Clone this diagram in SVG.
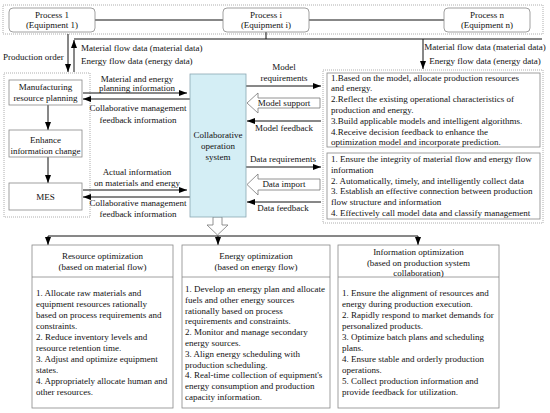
<svg xmlns="http://www.w3.org/2000/svg" width="550" height="413" viewBox="0 0 550 413">
<defs>
<marker id="ah" viewBox="0 0 8 6" refX="8" refY="3" markerWidth="8" markerHeight="6" markerUnits="userSpaceOnUse" orient="auto">
<path d="M0,0 L8,3 L0,6 Z" fill="#000"/>
</marker>
<style>
text{font-family:"Liberation Serif","Times New Roman",serif;font-size:9px;fill:#111}
.c{text-anchor:middle}
.box{fill:#fff;stroke:#888;stroke-width:0.8}
.pbox{fill:#fff;stroke:#888;stroke-width:0.8}
.dot{fill:none;stroke:#999;stroke-width:0.8;stroke-dasharray:1,1}
.ln{fill:none;stroke:#111;stroke-width:1}
.ar{fill:none;stroke:#111;stroke-width:1;marker-end:url(#ah)}
.hol{fill:#fff;stroke:#777;stroke-width:0.8}
</style>
</defs>
<rect width="550" height="413" fill="#fff"/>

<!-- frames -->
<rect class="dot" x="3" y="5" width="540" height="29"/>
<rect class="dot" x="4" y="73" width="86" height="144"/>
<rect class="dot" x="323" y="70" width="220" height="153"/>

<g id="connectors">
<line class="ln" x1="95" y1="20" x2="223" y2="20" stroke="#333"/>
<line class="ln" x1="309" y1="20" x2="444" y2="20"/>
<line class="ln" x1="266" y1="32" x2="266" y2="39"/>
<line class="ln" x1="74" y1="39" x2="542" y2="39"/>
<line class="ar" x1="68" y1="34" x2="68" y2="72"/>
<line class="ar" x1="74" y1="72" x2="74" y2="40"/>
<line class="ar" x1="423" y1="39" x2="423" y2="69"/>
<line class="ar" x1="48" y1="105" x2="48" y2="130"/>
<line class="ar" x1="48" y1="157" x2="48" y2="183"/>
<line class="ar" x1="83" y1="93" x2="187" y2="93"/>
<line class="ar" x1="190" y1="99" x2="83" y2="99"/>
<line class="ar" x1="83" y1="190" x2="187" y2="190"/>
<line class="ar" x1="190" y1="197" x2="83" y2="197"/>
<line class="ar" x1="246" y1="86" x2="321" y2="86"/>
<line class="ar" x1="321" y1="121" x2="247" y2="121"/>
<line class="ar" x1="246" y1="167" x2="321" y2="167"/>
<line class="ar" x1="321" y1="202" x2="247" y2="202"/>
<polygon class="hol" points="247,103 258,93 258,98 320,98 320,108 258,108 258,113"/>
<polygon class="hol" points="247,184.5 258,174 258,179 320,179 320,190 258,190 258,195"/>
<polygon class="hol" points="213,217 222,217 222,225 228,225 217.5,235 207,225 213,225"/>
<line class="ln" x1="48" y1="236" x2="418" y2="236"/>
<line class="ar" x1="48" y1="236" x2="48" y2="245"/>
<line class="ar" x1="218" y1="236" x2="218" y2="245"/>
<line class="ar" x1="418" y1="236" x2="418" y2="245"/>
</g>

<g id="process1">
<rect class="pbox" x="9" y="8" width="86" height="24" rx="4"/>
<text class="c" x="52" y="18">Process 1</text>
<text class="c" x="52" y="28">(Equipment 1)</text>
</g>
<g id="processi">
<rect class="pbox" x="223" y="8" width="86" height="24" rx="4"/>
<text class="c" x="266" y="18">Process i</text>
<text class="c" x="266" y="28">(Equipment i)</text>
</g>
<g id="processn">
<rect class="pbox" x="444" y="8" width="86" height="24" rx="4"/>
<text class="c" x="487" y="18">Process n</text>
<text class="c" x="487" y="28">(Equipment n)</text>
</g>

<g id="labels-top">
<text x="3" y="60">Production order</text>
<text x="81" y="51">Material flow data (material data)</text>
<text x="81" y="64">Energy flow data (energy data)</text>
<text class="c" x="485" y="50">Material flow data (material data)</text>
<text class="c" x="485" y="64">Energy flow data (energy data)</text>
</g>

<g id="mrp">
<rect class="box" x="9" y="80" width="73" height="25"/>
<text class="c" x="45.5" y="90">Manufacturing</text>
<text class="c" x="45.5" y="101">resource planning</text>
</g>
<g id="enhance">
<rect class="box" x="9" y="130" width="73" height="27"/>
<text class="c" x="45.5" y="143">Enhance</text>
<text class="c" x="45.5" y="154">information change</text>
</g>
<g id="mes">
<rect class="box" x="9" y="183" width="73" height="27"/>
<text class="c" x="45.5" y="200">MES</text>
</g>

<g id="labels-left">
<text class="c" x="137" y="82">Material and energy</text>
<text class="c" x="137" y="91">planning information</text>
<text class="c" x="138" y="111">Collaborative management</text>
<text class="c" x="138" y="123">feedback information</text>
<text class="c" x="137" y="175">Actual information</text>
<text class="c" x="137" y="186">on materials and energy</text>
<text class="c" x="138" y="206">Collaborative management</text>
<text class="c" x="138" y="217">feedback information</text>
</g>

<g id="center">
<rect x="190" y="74" width="56" height="143" fill="#d4eef5" stroke="#8aa7b2" stroke-width="0.8"/>
<text class="c" x="218" y="138">Collaborative</text>
<text class="c" x="218" y="149">operation</text>
<text class="c" x="218" y="160">system</text>
</g>

<g id="labels-right">
<text class="c" x="284" y="70">Model</text>
<text class="c" x="284" y="81">requirements</text>
<text class="c" x="284" y="106">Model support</text>
<text class="c" x="284" y="131">Model feedback</text>
<text class="c" x="283" y="162">Data requirements</text>
<text class="c" x="284" y="187">Data import</text>
<text class="c" x="283" y="211">Data feedback</text>
</g>

<g id="model-box">
<rect class="box" x="327" y="73" width="213" height="74"/>
<text x="331" y="80.5">1.Based on the model, allocate production resources</text>
<text x="331" y="91.3">and energy.</text>
<text x="331" y="102.1">2.Reflect the existing operational characteristics of</text>
<text x="331" y="112.9">production and energy.</text>
<text x="331" y="123.7">3.Build applicable models and intelligent algorithms.</text>
<text x="331" y="134.5">4.Receive decision feedback to enhance the</text>
<text x="331" y="145.3">optimization model and incorporate prediction.</text>
</g>
<g id="data-box">
<rect class="box" x="327" y="153" width="213" height="66"/>
<text x="331" y="162">1. Ensure the integrity of material flow and energy flow</text>
<text x="331" y="172.8">information</text>
<text x="331" y="183.6">2. Automatically, timely, and intelligently collect data</text>
<text x="331" y="194.4">3. Establish an effective connection between production</text>
<text x="331" y="205.2">flow structure and information</text>
<text x="331" y="216">4. Effectively call model data and classify management</text>
</g>

<g id="resource-opt">
<rect class="box" x="32" y="245" width="141" height="163"/>
<line x1="32" y1="277" x2="173" y2="277" stroke="#888" stroke-width="0.8"/>
<text class="c" x="102.5" y="259">Resource optimization</text>
<text class="c" x="102.5" y="270">(based on material flow)</text>
<text x="36" y="296">1. Allocate raw materials and</text>
<text x="36" y="307">equipment resources rationally</text>
<text x="36" y="318">based on process requirements and</text>
<text x="36" y="329">constraints.</text>
<text x="36" y="340">2. Reduce inventory levels and</text>
<text x="36" y="351">resource retention time.</text>
<text x="36" y="362">3. Adjust and optimize equipment</text>
<text x="36" y="373">states.</text>
<text x="36" y="384">4. Appropriately allocate human and</text>
<text x="36" y="395">other resources.</text>
</g>

<g id="energy-opt">
<rect class="box" x="182" y="245" width="148" height="163"/>
<line x1="182" y1="277" x2="330" y2="277" stroke="#888" stroke-width="0.8"/>
<text class="c" x="256" y="259">Energy optimization</text>
<text class="c" x="256" y="270">(based on energy flow)</text>
<text x="185" y="292">1. Develop an energy plan and allocate</text>
<text x="185" y="302.8">fuels and other energy sources</text>
<text x="185" y="313.6">rationally based on process</text>
<text x="185" y="324.4">requirements and constraints.</text>
<text x="185" y="335.2">2. Monitor and manage secondary</text>
<text x="185" y="346">energy sources.</text>
<text x="185" y="356.8">3. Align energy scheduling with</text>
<text x="185" y="367.6">production scheduling.</text>
<text x="185" y="378.4">4. Real-time collection of equipment's</text>
<text x="185" y="389.2">energy consumption and production</text>
<text x="185" y="400">capacity information.</text>
</g>

<g id="info-opt">
<rect class="box" x="338" y="245" width="161" height="163"/>
<line x1="338" y1="277" x2="499" y2="277" stroke="#888" stroke-width="0.8"/>
<text class="c" x="418.5" y="255">Information optimization</text>
<text class="c" x="418.5" y="266">(based on production system</text>
<text class="c" x="418.5" y="276">collaboration)</text>
<text x="342" y="296">1. Ensure the alignment of resources and</text>
<text x="342" y="307">energy during production execution.</text>
<text x="342" y="318">2. Rapidly respond to market demands for</text>
<text x="342" y="329">personalized products.</text>
<text x="342" y="340">3. Optimize batch plans and scheduling</text>
<text x="342" y="351">plans.</text>
<text x="342" y="362">4. Ensure stable and orderly production</text>
<text x="342" y="373">operations.</text>
<text x="342" y="384">5. Collect production information and</text>
<text x="342" y="395">provide feedback for utilization.</text>
</g>
</svg>
